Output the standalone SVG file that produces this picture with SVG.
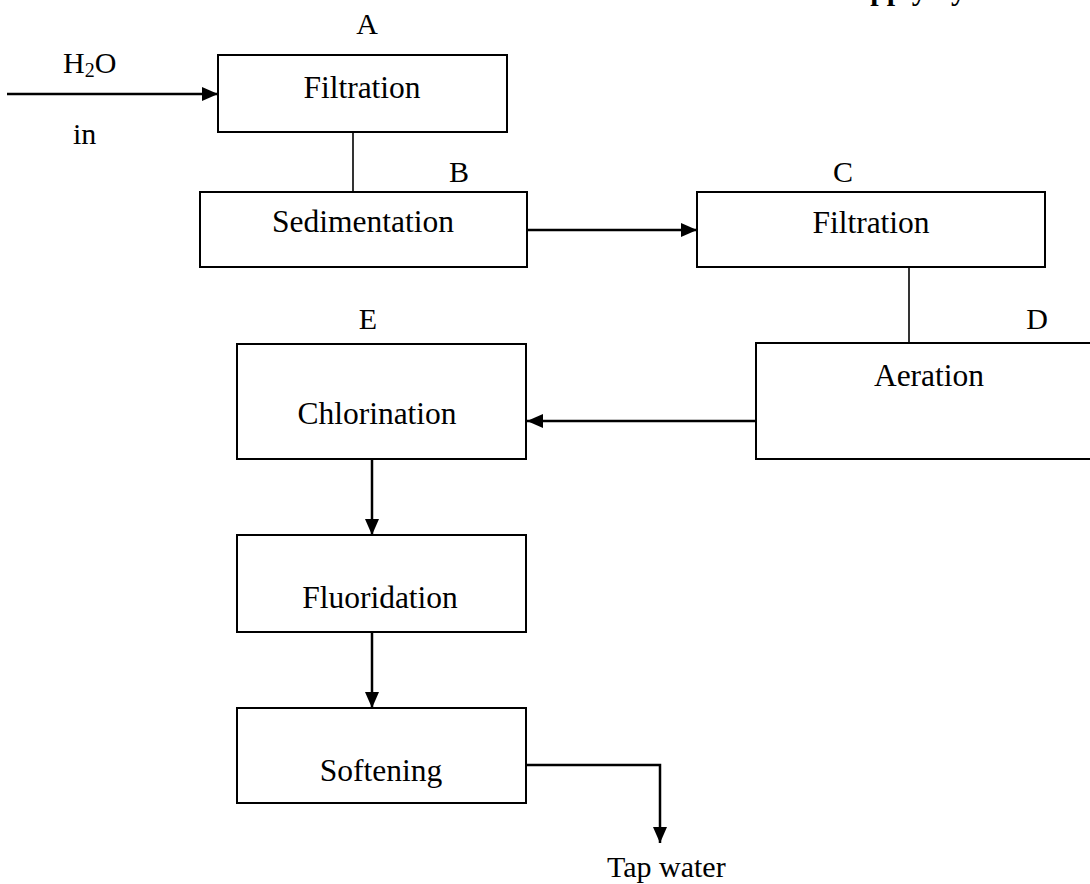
<svg xmlns="http://www.w3.org/2000/svg" width="1090" height="884" viewBox="0 0 1090 884">
<style>
.box{fill:#fff;stroke:#000;stroke-width:2}
.t{font-family:"Liberation Serif","Times New Roman",serif;font-size:30px;fill:#000}
.b{font-size:31.5px}
.c{text-anchor:middle}
.ln{stroke:#000;stroke-width:1.6;fill:none}
.ar{stroke:#000;stroke-width:2.5;fill:none;marker-end:url(#ah)}
</style>
<defs>
<marker id="ah" markerUnits="userSpaceOnUse" markerWidth="16" markerHeight="14" refX="16" refY="7" orient="auto">
<path d="M0,0 L16,7 L0,14 z" fill="#000"/>
</marker>
</defs>
<rect width="1090" height="884" fill="#fff"/>
<text class="t" x="1026" y="0" text-anchor="end" font-weight="bold">Water Supply System</text>
<g id="connectors">
<line class="ar" x1="7" y1="94" x2="218" y2="94"/>
<line class="ln" x1="353" y1="132" x2="353" y2="192"/>
<line class="ar" x1="527" y1="230" x2="697" y2="230"/>
<line class="ln" x1="909" y1="267" x2="909" y2="343"/>
<line class="ar" x1="756" y1="421" x2="527" y2="421"/>
<line class="ar" x1="372" y1="459" x2="372" y2="535"/>
<line class="ar" x1="372" y1="632" x2="372" y2="708"/>
<polyline class="ar" points="526,765 660,765 660,843"/>
</g>
<g id="inlet">
<text class="t" x="63" y="73">H<tspan font-size="20" dy="4">2</tspan><tspan dy="-4">O</tspan></text>
<text class="t" x="73" y="144">in</text>
</g>
<g id="nodeA">
<text class="t c" x="367" y="34">A</text>
<rect class="box" x="218" y="55" width="289" height="77"/>
<text class="t b c" x="362" y="98">Filtration</text>
</g>
<g id="nodeB">
<text class="t c" x="459" y="182">B</text>
<rect class="box" x="200" y="192" width="327" height="75"/>
<text class="t b c" x="363" y="232">Sedimentation</text>
</g>
<g id="nodeC">
<text class="t c" x="843" y="182">C</text>
<rect class="box" x="697" y="192" width="348" height="75"/>
<text class="t b c" x="871" y="233">Filtration</text>
</g>
<g id="nodeD">
<text class="t c" x="1037" y="329">D</text>
<rect class="box" x="756" y="343" width="350" height="116"/>
<text class="t b c" x="929" y="386">Aeration</text>
</g>
<g id="nodeE">
<text class="t c" x="368" y="329">E</text>
<rect class="box" x="237" y="344" width="289" height="115"/>
<text class="t b c" x="377" y="424">Chlorination</text>
</g>
<g id="nodeF">
<rect class="box" x="237" y="535" width="289" height="97"/>
<text class="t b c" x="380" y="608">Fluoridation</text>
</g>
<g id="nodeS">
<rect class="box" x="237" y="708" width="289" height="95"/>
<text class="t b c" x="381" y="781">Softening</text>
</g>
<g id="outlet">
<text class="t" x="607" y="877">Tap water</text>
</g>
</svg>
